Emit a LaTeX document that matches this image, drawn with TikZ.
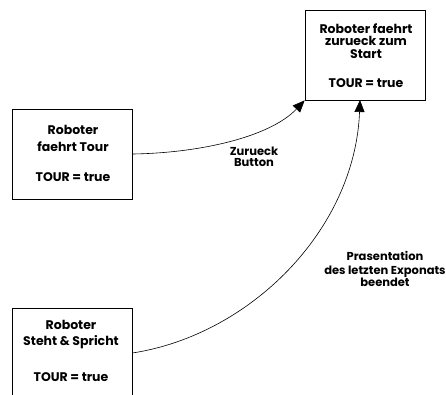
\documentclass[tikz,border=0pt]{standalone}
\usepackage{fontspec}
\setmainfont{Poppins}
\usetikzlibrary{arrows.meta}
\begin{document}
\begin{tikzpicture}[x=1pt,y=-1pt,
  statebox/.style={draw, line width=0.7pt, minimum width=120pt, minimum height=90pt, inner sep=0pt},
  boxtext/.style={align=center, inner sep=0pt, anchor=base, font=\bfseries\fontsize{12.5}{12.5}\selectfont},
  edgelabel/.style={align=center, inner sep=0pt, anchor=base, font=\bfseries\fontsize{11.5}{12}\selectfont},
  trans/.style={line width=0.6pt, -{Triangle[length=12pt,width=10pt]}}]
\path[use as bounding box, clip] (0,0) rectangle (446,394);

% states
\node[statebox] (back) at (365,55) {};
\node[statebox] (tour) at (72,154) {};
\node[statebox] (talk) at (72,353) {};

% state texts, anchored at the baseline of their last line
\node[boxtext] (backtxt) at (366,87.3) {Roboter faehrt\\zurueck zum\\Start\\[16.5pt]TOUR = true};
\node[boxtext] (tourtxt) at (73,181.7) {Roboter\\[4.5pt]faehrt Tour\\[17.5pt]TOUR = true};
\node[boxtext] (talktxt) at (71,381.7) {Roboter\\[3.2pt]Steht \& Spricht\\[24.2pt]TOUR = true};

% transitions
\coordinate (backsw) at (back.south west);
\coordinate (backin) at (360,100);
\draw[trans] (tour.east) .. controls (200,153) and (270,137) .. (backsw);
\draw[trans] (talk.east) .. controls (250,335) and (355,230) .. (backin);

\node[edgelabel] (lbl1) at (254,166) {Zurueck\\[-1pt]Button};
\node[edgelabel] (lbl2) at (385,286.7) {Prasentation\\[2pt]des letzten Exponats\\beendet};
\end{tikzpicture}
\end{document}
